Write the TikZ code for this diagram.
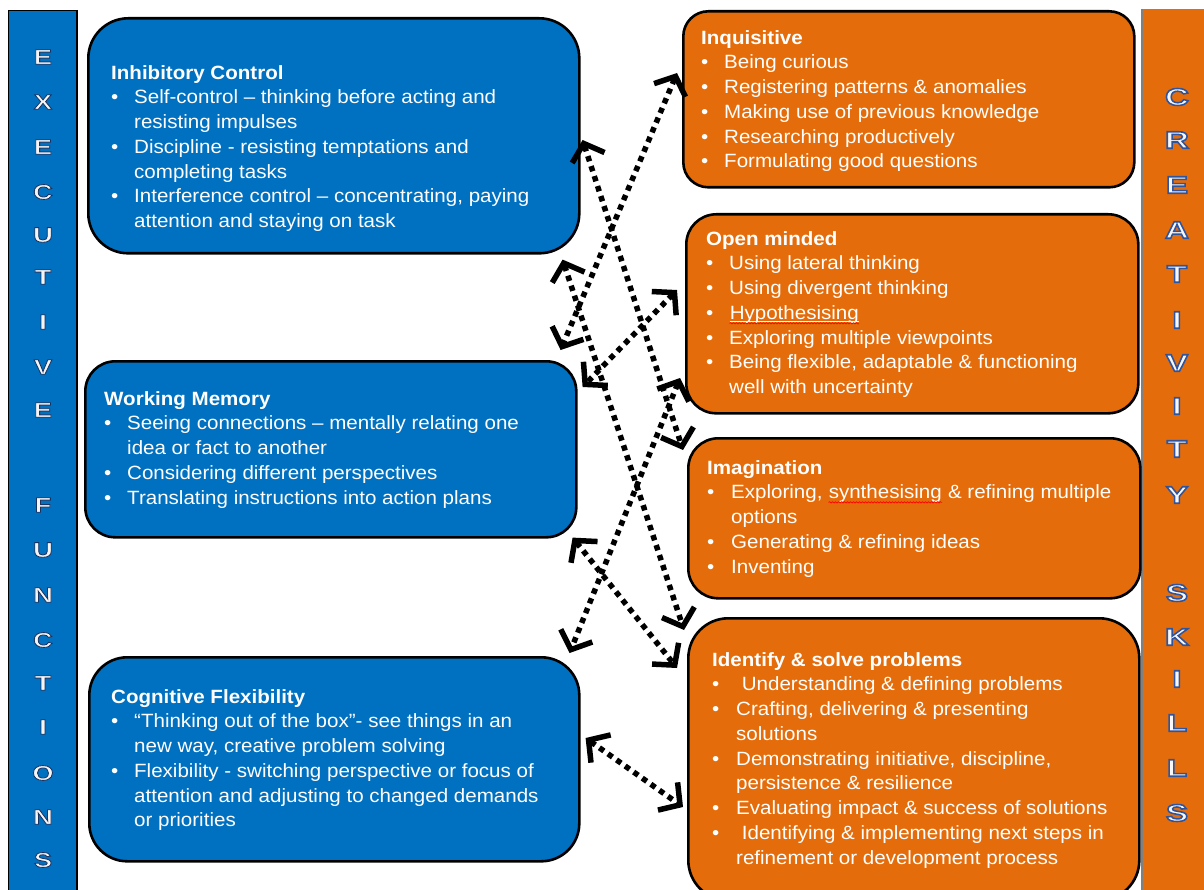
\documentclass[tikz,border=0pt]{standalone}
\usepackage{fontspec}
\setmainfont{Liberation Sans}[FakeStretch=1.07]
\newfontfamily\leftlet{Liberation Sans Bold}[FakeStretch=1.3,FakeBold=4]
\newfontfamily\rightlet{Liberation Sans Bold}[FakeStretch=1.38,FakeBold=6.5]
\usetikzlibrary{arrows.meta,calc,decorations.pathmorphing}
\definecolor{exblue}{RGB}{0,112,192}
\definecolor{crorange}{RGB}{228,108,10}
\newcommand\bul{\makebox[23pt][l]{•}}
\newcommand\bulw{\makebox[24pt][l]{•}}
\newcommand\ind{\hspace*{23pt}}
\newcommand\indw{\hspace*{24pt}}
\newcommand\lletter[1]{\special{pdf:bcolor [0.96 0.96 0.96] [0.10 0.20 0.38]}#1\special{pdf:ecolor}}
\newcommand\rletter[1]{\special{pdf:bcolor [0.97 0.97 0.97] [0.18 0.33 0.62]}#1\special{pdf:ecolor}}
\newcommand\spellu[1]{\tikz[baseline=0pt]{\node[inner sep=0pt,anchor=base west,text=white] (spw) at (0pt,0pt) {#1};\draw[white,line width=0.7pt] ([yshift=-2pt]spw.base west)--([yshift=-2pt]spw.base east);\draw[red,line width=0.6pt,decorate,decoration={snake,amplitude=0.7pt,segment length=3pt}] ([yshift=-4pt]spw.base west)--([yshift=-4pt]spw.base east);}}
\newcommand\spell[1]{\tikz[baseline=0pt]{\node[inner sep=0pt,anchor=base west,text=white] (spx) at (0pt,0pt) {#1};\draw[red,line width=0.6pt,decorate,decoration={snake,amplitude=0.7pt,segment length=3pt}] ([yshift=-3.5pt]spx.base west)--([yshift=-3.5pt]spx.base east);}}
\begin{document}
\begin{tikzpicture}[x=1pt,y=-1pt,
  box/.style={draw=black,line width=2.6pt,rectangle,inner sep=0pt,anchor=north west},
  txt/.style={text=white,align=left,anchor=north west,inner sep=0pt,font=\fontsize{19.2}{24.75}\selectfont},
  lets/.style={inner sep=0pt,font=\leftlet\fontsize{21}{21}\selectfont},
  rlets/.style={inner sep=0pt,font=\rightlet\fontsize{24}{24}\selectfont},
  >={Straight Barb[length=15pt,width=34pt]},
  link/.style={line width=5.5pt,dash pattern=on 5.5pt off 5pt,<->}]
\useasboundingbox (0,0) rectangle (1204,890);
\fill[white] (0,0) rectangle (1204,890);
% side bars
\fill[exblue] (8,10) rectangle (77,900);
\draw[black,line width=0.8pt] (8,900) -- (8,10) -- (77,10);
\draw[black,line width=1.6pt] (77,10) -- (77,900);
\fill[crorange] (1142,9) rectangle (1210,900);
\draw[gray,line width=1.5pt] (1142,9) -- (1142,900);
% bar letters
\foreach \l/\yy [count=\i] in {E/57,X/102,E/147,C/192,U/235,T/277,I/322,V/367,E/410,F/505,U/550,N/595,C/640,T/683,I/727,O/773,N/817,S/860}{
  \node[lets] (lx\i) at (43,\yy) {\lletter{\l}};
}
\foreach \l/\yy [count=\i] in {C/97,R/140,E/185,A/230,T/274,I/320,V/363,I/406,T/449,Y/495,S/593,K/637,I/679,L/723,L/768,S/813}{
  \node[rlets] (rx\i) at (1177,\yy) {\rletter{\l}};
}
% boxes
\node[box,fill=exblue,rounded corners=40pt,minimum width=491pt,minimum height=235pt] (ic) at (87,17) {};
\node[box,fill=exblue,rounded corners=30pt,minimum width=491pt,minimum height=176pt] (wm) at (84,360) {};
\node[box,fill=exblue,rounded corners=38pt,minimum width=490pt,minimum height=204pt] (cf) at (88,656) {};
\node[box,fill=crorange,rounded corners=25pt,minimum width=451pt,minimum height=176pt] (inq) at (682,10) {};
\node[box,fill=crorange,rounded corners=30pt,minimum width=452pt,minimum height=199pt] (om) at (685,213) {};
\node[box,fill=crorange,rounded corners=30pt,minimum width=452pt,minimum height=160pt] (img) at (687,437) {};
\node[box,fill=crorange,rounded corners=40pt,minimum width=451pt,minimum height=282pt] (idp) at (687,617) {};
% texts
\node[txt] (ict) at (111,65) {\textbf{Inhibitory Control}\\\bul Self-control – thinking before acting and\\\ind resisting impulses\\\bul Discipline - resisting temptations and\\\ind completing tasks\\\bul Interference control – concentrating, paying\\\ind attention and staying on task};
\node[txt] (wmt) at (104,391) {\textbf{Working Memory}\\\bul Seeing connections – mentally relating one\\\ind idea or fact to another\\\bul Considering different perspectives\\\bul Translating instructions into action plans};
\node[txt] (cft) at (111,689) {\textbf{Cognitive Flexibility}\\\bul “Thinking out of the box”- see things in an\\\ind new way, creative problem solving\\\bul Flexibility - switching perspective or focus of\\\ind attention and adjusting to changed demands\\\ind or priorities};
\node[txt] (inqt) at (701,30) {\textbf{Inquisitive}\\\bul Being curious\\\bul Registering patterns \& anomalies\\\bul Making use of previous knowledge\\\bul Researching productively\\\bul Formulating good questions};
\node[txt] (omt) at (706,231) {\textbf{Open minded}\\\bul Using lateral thinking\\\bul Using divergent thinking\\\bul \spellu{Hypothesising}\\\bul Exploring multiple viewpoints\\\bul Being flexible, adaptable \& functioning\\\ind well with uncertainty};
\node[txt] (imgt) at (707,460) {\textbf{Imagination}\\\bulw Exploring, \spell{synthesising} \& refining multiple\\\indw options\\\bulw Generating \& refining ideas\\\bulw Inventing};
\node[txt] (idpt) at (712,652) {\textbf{Identify \& solve problems}\\\bulw\ Understanding \& defining problems\\\bulw Crafting, delivering \& presenting\\\indw solutions\\\bulw Demonstrating initiative, discipline,\\\indw persistence \& resilience\\\bulw Evaluating impact \& success of solutions\\\bulw\ Identifying \& implementing next steps in\\\indw refinement or development process};
% connector end points
\coordinate (a1s) at ($(ic.north east)+(2,123)$);
\coordinate (a1e) at ($(img.north west)+(-4,13)$);
\coordinate (a2s) at ($(inq.north west)+(-5,63)$);
\coordinate (a2e) at ($(wm.north east)+(-17,-10)$);
\coordinate (a3s) at ($(ic.south east)+(-18,5)$);
\coordinate (a3e) at ($(idp.north west)+(-3,13)$);
\coordinate (a4s) at ($(om.north west)+(-8,77)$);
\coordinate (a4e) at ($(wm.north east)+(5,27)$);
\coordinate (a5s) at ($(om.north west)+(-5,165)$);
\coordinate (a5e) at ($(cf.north east)+(-11,-3)$);
\coordinate (a6s) at ($(wm.south east)+(-5,-1)$);
\coordinate (a6e) at ($(idp.north west)+(-10,51)$);
\coordinate (a7s) at ($(cf.north east)+(5,82)$);
\coordinate (a7e) at ($(idp.north west)+(-4,190)$);
% connectors
\draw[link] (a1s) -- (a1e);
\draw[link] (a2s) -- (a2e);
\draw[link] (a3s) -- (a3e);
\draw[link] (a4s) -- (a4e);
\draw[link] (a5s) -- (a5e);
\draw[link] (a6s) -- (a6e);
\draw[link] (a7s) -- (a7e);
\end{tikzpicture}
\end{document}
